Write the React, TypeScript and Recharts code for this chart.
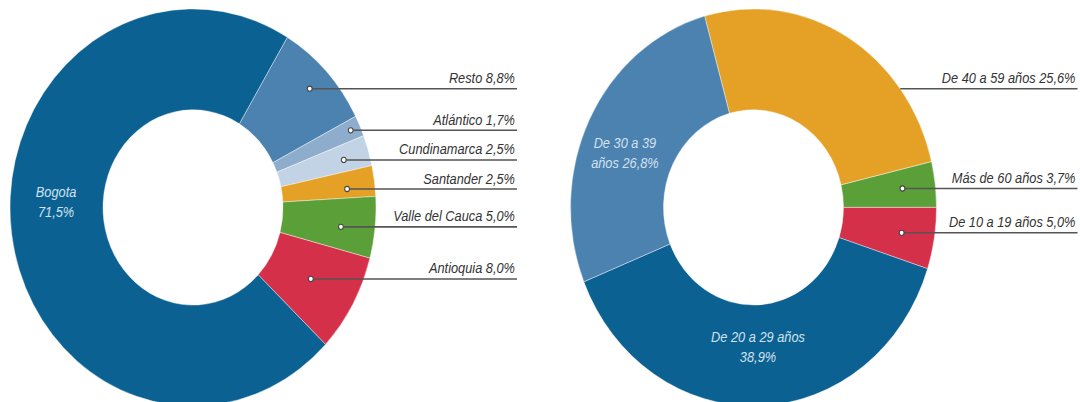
import { PieChart, Pie, Cell } from 'recharts';

// share of people by region (left donut), clockwise from the top right
const regionNames = ['Resto', 'Atlántico', 'Cundinamarca', 'Santander', 'Valle del Cauca', 'Antioquia', 'Bogota'];
const regionShares = [8.8, 1.7, 2.5, 2.5, 5.0, 8.0, 71.5];

// share by age group (right donut), clockwise from the top
const ageNames = ['De 40 a 59 años', 'Más de 60 años', 'De 10 a 19 años', 'De 20 a 29 años', 'De 30 a 39 años'];
const ageShares = [25.6, 3.7, 5.0, 38.9, 26.8];

const regionData = regionNames.map((name, i) => ({ name, value: regionShares[i] }));
const ageData = ageNames.map((name, i) => ({ name, value: ageShares[i] }));

const colors: Record<string, string> = {
  Resto: '#4b82b0',
  'Atlántico': '#8eaccb',
  Cundinamarca: '#c2d3e6',
  Santander: '#e4a125',
  'Valle del Cauca': '#5b9f38',
  Antioquia: '#d5304a',
  Bogota: '#0a6192',
  'De 40 a 59 años': '#e4a125',
  'Más de 60 años': '#5b9f38',
  'De 10 a 19 años': '#d5304a',
  'De 20 a 29 años': '#0a6192',
  'De 30 a 39 años': '#4b82b0',
};

// where each label sits: radius of the anchor, optional angle override
type LabelSpec = { r: number; dot?: boolean; inside?: boolean; angle?: number; breakAfter?: number };
const labelSpecs: Record<string, LabelSpec> = {
  Resto: { r: 160 },
  'Atlántico': { r: 173 },
  Cundinamarca: { r: 157, angle: 16.2 },
  Santander: { r: 155, angle: 6.3 },
  'Valle del Cauca': { r: 149, angle: -6.9 },
  Antioquia: { r: 135 },
  Bogota: { r: 137, inside: true, angle: 178, breakAfter: 1 },
  'De 40 a 59 años': { r: 127, dot: false },
  'Más de 60 años': { r: 150 },
  'De 10 a 19 años': { r: 150 },
  'De 20 a 29 años': { r: 129, inside: true, breakAfter: 5 },
  'De 30 a 39 años': { r: 138, inside: true, angle: 158.7, breakAfter: 4 },
};

const RAD = Math.PI / 180;
const FONT = '"Liberation Sans", Arial, sans-serif';
const OUTER = 183;
const INNER = 90;
const STRETCH = 1.085;

const fmt = (v: number) => `${v.toFixed(1).replace('.', ',')}%`;

const renderLabel = (props: any) => {
  const { cx, cy, midAngle, value } = props;
  const name = props.name ?? props.payload?.name;
  const spec = labelSpecs[name];
  if (!spec) return null;
  const angle = spec.angle ?? midAngle;
  const x = cx + spec.r * Math.cos(angle * RAD);
  const y = cy - spec.r * Math.sin(angle * RAD);
  const text = `${name} ${fmt(value)}`;

  if (spec.inside) {
    const words = text.split(' ');
    const first = words.slice(0, spec.breakAfter).join(' ');
    const second = words.slice(spec.breakAfter).join(' ');
    return (
      <text x={x} y={y} textAnchor="middle" fill="#d3e1ee" fontSize={12.8} fontStyle="italic" fontFamily={FONT}>
        <tspan x={x} dy={-5}>{first}</tspan>
        <tspan x={x} dy={18.5}>{second}</tspan>
      </text>
    );
  }

  const lineEnd = cx + 324;
  const dy = y - cy;
  const startX = spec.dot === false ? cx + Math.sqrt(OUTER * OUTER - dy * dy) : x;
  return (
    <g>
      <line x1={startX} y1={y} x2={lineEnd} y2={y} stroke="#555" strokeWidth={1.4} />
      {spec.dot !== false && <circle cx={x} cy={y} r={2.4} fill="#fff" stroke="#444" strokeWidth={1} />}
      <text x={lineEnd - 2} y={y - 5} textAnchor="end" fill="#333" fontSize={12.8} fontStyle="italic" fontFamily={FONT}>
        {text}
      </text>
    </g>
  );
};

export default function App() {
  return (
    <div
      style={{
        position: 'absolute',
        left: 0,
        top: 0,
        width: 1080,
        height: 372,
        transform: `scaleY(${STRETCH})`,
        transformOrigin: 'top left',
      }}
    >
      <PieChart width={1080} height={372} margin={{ top: 0, right: 0, bottom: 0, left: 0 }}>
        <Pie
          data={regionData}
          dataKey="value"
          nameKey="name"
          cx={193}
          cy={191.2}
          innerRadius={INNER}
          outerRadius={OUTER}
          startAngle={59}
          endAngle={-301}
          stroke="#fff"
          strokeWidth={0.4}
          label={renderLabel}
          labelLine={false}
          isAnimationActive={false}
        >
          {regionData.map((d) => (
            <Cell key={d.name} fill={colors[d.name]} />
          ))}
        </Pie>
        <Pie
          data={ageData}
          dataKey="value"
          nameKey="name"
          cx={753.5}
          cy={191.2}
          innerRadius={INNER}
          outerRadius={OUTER}
          startAngle={105.5}
          endAngle={-254.5}
          stroke="#fff"
          strokeWidth={0.4}
          label={renderLabel}
          labelLine={false}
          isAnimationActive={false}
        >
          {ageData.map((d) => (
            <Cell key={d.name} fill={colors[d.name]} />
          ))}
        </Pie>
      </PieChart>
    </div>
  );
}
